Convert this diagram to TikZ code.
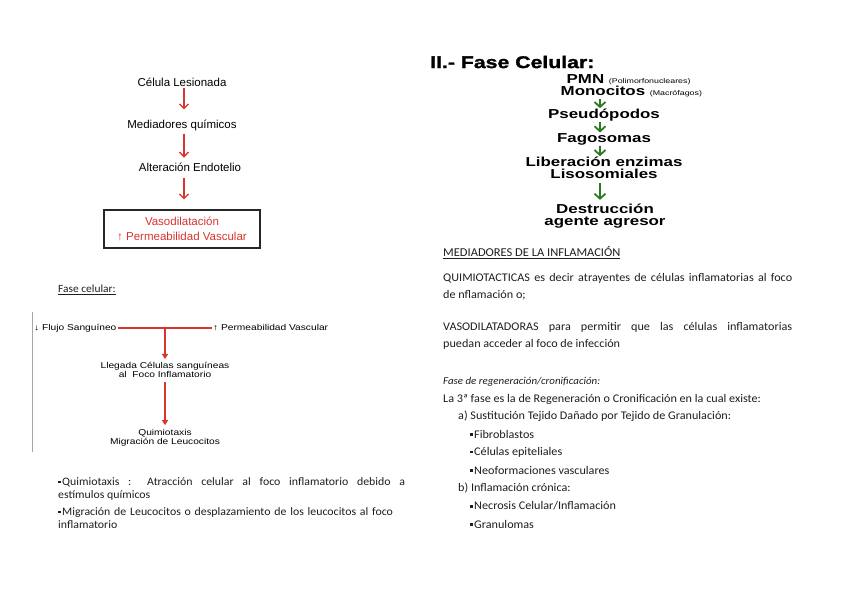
\documentclass[tikz,border=0pt]{standalone}
\usepackage{fontspec}
\setmainfont[FakeStretch=1.04]{Carlito}
\newfontfamily\arialf{Liberation Sans}
\newfontfamily\arialw[FakeStretch=1.2]{Liberation Sans}
\newfontfamily\arialg[FakeStretch=1.3]{Liberation Sans Bold}
\newfontfamily\arialm[FakeStretch=1.3]{Liberation Sans}
\newfontfamily\arialt[FakeStretch=1.25,FakeBold=1.5]{Liberation Sans Bold}
\usetikzlibrary{arrows.meta}
\definecolor{flowred}{HTML}{D9342F}
\definecolor{flowgreen}{HTML}{2B7A23}
\definecolor{bodygray}{HTML}{1E1E1E}
\newcommand\sqb{\rule[1.8pt]{2.8pt}{2.8pt}\hspace{1.2pt}}

\tikzset{
  flowtxt/.style={font=\arialf\fontsize{11.5}{14}\selectfont, inner sep=1pt},
  smalltxt/.style={font=\arialw\fontsize{8.5}{9.3}\selectfont, inner sep=1pt, align=center},
  greentxt/.style={font=\arialg\fontsize{13}{12.5}\selectfont, inner sep=0.5pt, align=center},
  bodytxt/.style={font=\fontsize{11.7}{13.5}\selectfont, text=bodygray, inner sep=0pt},
  redarrow/.style={flowred, line width=1.3pt, -{Straight Barb[length=4.5pt,width=9pt]}},
  redtri/.style={flowred, line width=1.2pt, -{Triangle[length=5pt,width=6pt]}},
  greenarrow/.style={flowgreen, line width=1.8pt, -{Straight Barb[length=5pt,width=11pt]}}
}

\begin{document}
\begin{tikzpicture}[x=1pt,y=-1pt]
\useasboundingbox[fill=white] (0,0) rectangle (848,599);

% cadena de la lesion
\node[flowtxt] (cel) at (182,82) {Célula Lesionada};
\node[flowtxt] (med) at (182,125) {Mediadores químicos};
\node[flowtxt] (alt) at (190,167) {Alteración Endotelio};
\node[draw=black!85, line width=1.3pt, minimum width=156pt, minimum height=38pt, align=center,
      text=flowred, font=\arialf\fontsize{11.5}{15}\selectfont] (vaso) at (182,229)
      {Vasodilatación\\↑ Permeabilidad Vascular};
\draw[redarrow, shorten <=1pt, shorten >=9pt] (cel.south -| 184,0) -- (med.north -| 184,0);
\draw[redarrow, shorten <=2pt, shorten >=4pt] (med.south -| 184,0) -- (alt.north -| 184,0);
\draw[redarrow, shorten <=6pt, shorten >=10pt] (alt.south -| 184,0) -- (vaso.north -| 184,0);

% fase celular
\node[bodytxt, anchor=west, font=\fontsize{11}{13}\selectfont] (fasecel) at (58,290) {\underline{Fase celular:}};
\draw[black!35, line width=0.8pt] (32,312) -- (32,452);
\node[smalltxt, anchor=west] (flujo) at (33,328) {↓ Flujo Sanguíneo};
\node[smalltxt, anchor=west] (perm) at (212,328) {↑ Permeabilidad Vascular};
\draw[flowred, line width=1.1pt] (flujo) -- (perm);
\coordinate (tee) at (165,328);
\node[smalltxt] (lleg) at (165,370) {Llegada Células sanguíneas\\al\ \ Foco Inflamatorio};
\node[smalltxt] (quim) at (165,438) {Quimiotaxis\\Migración de Leucocitos};
\draw[redtri, shorten >=2pt] (tee) -- (lleg);
\draw[redtri, shorten <=3pt, shorten >=3pt] (lleg) -- (quim);

\node[bodytxt, anchor=north west, text width=347pt, align=justify, font=\fontsize{11.4}{13.5}\selectfont] (quimtxt) at (58,477)
  {\sqb Quimiotaxis : Atracción celular al foco inflamatorio debido a\linebreak estímulos químicos};
\node[bodytxt, anchor=north west, text width=347pt, align=left, font=\fontsize{11.4}{13.5}\selectfont] (migtxt) at (58,507)
  {\sqb Migración de Leucocitos o desplazamiento de los leucocitos al foco\\inflamatorio};

% II fase celular
\node[anchor=west, inner sep=0pt, font=\arialt\fontsize{17}{17}\selectfont] (titulo) at (430,62) {II.- Fase Celular:};
\node[greentxt, anchor=base west] (pmn) at (566,84)
  {PMN {\arialm\fontsize{6.8}{7}\selectfont (Polimorfonucleares)}};
\node[greentxt, anchor=base west] (mono) at (560,96)
  {Monocitos {\arialm\fontsize{6.8}{7}\selectfont (Macrófagos)}};
\node[greentxt] (pseudo) at (604,115) {Pseudópodos};
\node[greentxt] (fago) at (604,139) {Fagosomas};
\node[greentxt] (lib) at (604,168) {Liberación enzimas\\Lisosomiales};
\node[greentxt] (destr) at (605,216) {Destrucción\\agente agresor};
\draw[greenarrow, shorten <=1pt] (mono.south -| 600,0) -- (pseudo.north -| 600,0);
\draw[greenarrow] (pseudo.south -| 600,0) -- (fago.north -| 600,0);
\draw[greenarrow] (fago.south -| 600,0) -- (lib.north -| 600,0);
\draw[greenarrow, shorten <=3pt, shorten >=3pt] (lib.south -| 600,0) -- (destr.north -| 600,0);

% mediadores
\node[bodytxt, anchor=west, font=\fontsize{12}{14}\selectfont] (medinf) at (443,253) {\underline{MEDIADORES DE LA INFLAMACIÓN}};
\node[bodytxt, anchor=north west, text width=349pt, align=justify, font=\fontsize{11.7}{17}\selectfont] (quimio) at (443,273)
  {QUIMIOTACTICAS es decir atrayentes de células inflamatorias al foco\linebreak de nflamación o;};
\node[bodytxt, anchor=north west, text width=349pt, align=justify, font=\fontsize{11.7}{17}\selectfont] (vasod) at (443,322)
  {VASODILATADORAS para permitir que las células inflamatorias\linebreak puedan acceder al foco de infección};

% regeneracion
\node[bodytxt, anchor=west, font=\itshape\fontsize{10.5}{12}\selectfont] (faseregen) at (443,382) {Fase de regeneración/cronificación:};
\node[bodytxt, anchor=west] (tercera) at (443,399) {La 3ª fase es la de Regeneración o Cronificación en la cual existe:};
\node[bodytxt, anchor=west] (susti) at (458,416) {a) Sustitución Tejido Dañado por Tejido de Granulación:};
\node[bodytxt, anchor=west] (fibro) at (470,434) {\sqb Fibroblastos};
\node[bodytxt, anchor=west] (epit) at (470,452) {\sqb Células epiteliales};
\node[bodytxt, anchor=west] (neo) at (470,470) {\sqb Neoformaciones vasculares};
\node[bodytxt, anchor=west] (cronica) at (458,488) {b) Inflamación crónica:};
\node[bodytxt, anchor=west] (necro) at (470,506) {\sqb Necrosis Celular/Inflamación};
\node[bodytxt, anchor=west] (granu) at (470,524) {\sqb Granulomas};
\end{tikzpicture}
\end{document}
